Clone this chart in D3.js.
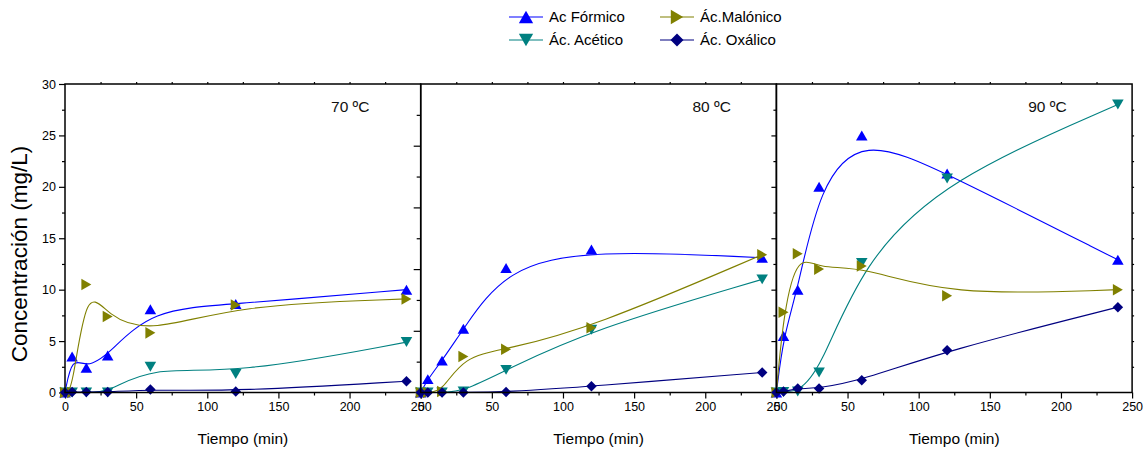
<!DOCTYPE html>
<html>
<head>
<meta charset="utf-8">
<script src="https://cdn.jsdelivr.net/npm/d3@7"></script>
<style>
  body { margin: 0; background: #fff; }
  svg { display: block; font-family: "Liberation Sans", Arial, sans-serif; }
</style>
</head>
<body>
<svg id="chart" width="1146" height="453"></svg>
<script>
// Sampling times (min), shared by every temperature
const tiempos = [0, 5, 15, 30, 60, 120, 240];
const temperaturas = ["70 ºC", "80 ºC", "90 ºC"];
const acidos = ["Ac Fórmico", "Ác. Acético", "Ác.Malónico", "Ác. Oxálico"];
const colores = ["#0000ff", "#008080", "#808000", "#000080"];
const simbolos = ["up", "down", "right", "diamond"];

// Concentrations (mg/L) at 70 ºC
const formico70  = [0, 3.5, 2.4, 3.6, 8.1, 8.6, 10.0];
const acetico70  = [0, 0, 0, 0, 2.5, 1.8, 4.9];
const malonico70 = [0, 0, 10.5, 7.4, 5.8, 8.5, 9.1];
const oxalico70  = [0, 0.05, 0.05, 0.05, 0.3, 0.1, 1.1];

// Concentrations (mg/L) at 80 ºC
const formico80  = [0, 1.3, 3.1, 6.2, 12.1, 13.9, 13.1];
const acetico80  = [0, 0, 0, 0.1, 2.2, 6.1, 11.0];
const malonico80 = [0, 0, 0.1, 3.5, 4.2, 6.3, 13.4];
const oxalico80  = [0, 0, 0, 0, 0.05, 0.6, 1.95];

// Concentrations (mg/L) at 90 ºC
const formico90  = [0, 5.5, 10.0, 20.0, 25.0, 21.3, 12.9];
const acetico90  = [0, 0.05, 0.1, 1.95, 12.6, 20.8, 28.0];
const malonico90 = [0, 7.8, 13.5, 12.0, 12.3, 9.4, 10.0];
const oxalico90  = [0, 0.1, 0.4, 0.4, 1.2, 4.1, 8.3];

const xTicks = [0, 50, 100, 150, 200, 250];
const yTicks = [0, 5, 10, 15, 20, 25, 30];

const series = [
  [formico70, acetico70, malonico70, oxalico70],
  [formico80, acetico80, malonico80, oxalico80],
  [formico90, acetico90, malonico90, oxalico90]
];

// ---- layout ----
const plotLeft = 65, panelW = 355.7, plotTop = 84, plotBottom = 392.5;
const labelT = [187, 191, 177];           // x (in minutes) where the temperature label starts

const svg = d3.select("#chart");
const y = d3.scaleLinear().domain([0, 30]).range([plotBottom, plotTop]);

function symbolPath(kind, s) {
  const w = s * 1.1, h = s * 0.95;
  switch (kind) {
    case "up":    return `M0,${-h/2}L${w/2},${h/2}L${-w/2},${h/2}Z`;
    case "down":  return `M0,${h/2}L${w/2},${-h/2}L${-w/2},${-h/2}Z`;
    case "right": return `M${-h/2},${-w/2}L${h/2},0L${-h/2},${w/2}Z`;
    default:      return `M0,${-s/2}L${s/2},0L0,${s/2}L${-s/2},0Z`;
  }
}

function styleAxis(g) {
  g.select(".domain").remove();
  g.selectAll(".tick line").attr("stroke", "#000").attr("stroke-width", 1.2);
  g.selectAll(".tick text").attr("fill", "#000").attr("font-size", 12.5)
    .attr("font-family", "'Liberation Sans', Arial, sans-serif");
}

temperaturas.forEach((temp, p) => {
  const x0 = plotLeft + p * panelW;
  const x = d3.scaleLinear().domain([0, 250]).range([x0, x0 + panelW]);
  const g = svg.append("g");

  // bottom axis: labelled majors, unlabelled minors
  g.append("g").attr("transform", `translate(0,${plotBottom})`)
    .call(d3.axisBottom(x).tickValues(xTicks).tickSize(6).tickPadding(4))
    .call(styleAxis);
  g.append("g").attr("transform", `translate(0,${plotBottom})`)
    .call(d3.axisBottom(x).tickValues([25, 75, 125, 175, 225]).tickSize(3).tickFormat(""))
    .call(styleAxis);
  // top axis: small outward ticks
  g.append("g").attr("transform", `translate(0,${plotTop})`)
    .call(d3.axisTop(x).tickValues([25, 50, 75, 100, 125, 150, 175, 200, 225]).tickSize(2).tickFormat(""))
    .call(styleAxis);

  // left axis of each panel
  if (p === 0) {
    g.append("g").attr("transform", `translate(${x0},0)`)
      .call(d3.axisLeft(y).tickValues(yTicks).tickSize(6).tickPadding(3))
      .call(styleAxis);
    g.append("g").attr("transform", `translate(${x0},0)`)
      .call(d3.axisLeft(y).tickValues(d3.range(2.5, 30, 5)).tickSize(3).tickFormat(""))
      .call(styleAxis);
  } else if (p === 1) {
    g.append("g").attr("transform", `translate(${x0},0)`)
      .call(d3.axisLeft(y).tickValues([6, 12, 18, 24]).tickSize(7).tickFormat(""))
      .call(styleAxis);
    g.append("g").attr("transform", `translate(${x0},0)`)
      .call(d3.axisLeft(y).tickValues([3, 9, 15, 21, 27]).tickSize(4).tickFormat(""))
      .call(styleAxis);
  } else {
    g.append("g").attr("transform", `translate(${x0},0)`)
      .call(d3.axisLeft(y).tickValues([5, 10, 15, 20, 25]).tickSize(5).tickFormat(""))
      .call(styleAxis);
    g.append("g").attr("transform", `translate(${x0},0)`)
      .call(d3.axisLeft(y).tickValues(d3.range(2.5, 30, 5)).tickSize(3).tickFormat(""))
      .call(styleAxis);
    g.append("g").attr("transform", `translate(${x0 + panelW},0)`)
      .call(d3.axisRight(y).tickValues(d3.range(2.5, 30, 2.5)).tickSize(2).tickFormat(""))
      .call(styleAxis);
  }

  // series: smooth B-spline line + markers
  const line = d3.line().x((d, i) => x(tiempos[i])).y(d => y(d)).curve(d3.curveBasis);
  series[p].forEach((vals, s) => {
    const sg = g.append("g");
    sg.append("path").attr("d", line(vals))
      .attr("fill", "none").attr("stroke", colores[s]).attr("stroke-width", 1.1);
    sg.selectAll("path.m").data(vals).enter().append("path").attr("class", "m")
      .attr("transform", (d, i) => `translate(${x(tiempos[i])},${y(d)})`)
      .attr("d", symbolPath(simbolos[s], 10.5))
      .attr("fill", colores[s]);
  });

  // frame
  g.append("rect").attr("x", x0).attr("y", plotTop)
    .attr("width", panelW).attr("height", plotBottom - plotTop)
    .attr("fill", "none").attr("stroke", "#000").attr("stroke-width", 1.5);

  // temperature label
  g.append("text").attr("x", x(labelT[p])).attr("y", 112)
    .attr("font-size", 15.5).attr("fill", "#111").text(temp);

  // x title
  g.append("text").attr("x", x0 + panelW / 2).attr("y", 444)
    .attr("text-anchor", "middle").attr("font-size", 15.5).attr("fill", "#000")
    .text("Tiempo (min)");
});

// y title
svg.append("text").attr("transform", "translate(27,254) rotate(-90)")
  .attr("text-anchor", "middle").attr("font-size", 22.5).attr("fill", "#000")
  .text("Concentración (mg/L)");

// legend (two columns, two rows)
const legendPos = [[509, 17], [509, 40], [660, 17], [660, 40]];
acidos.forEach((name, s) => {
  const [lx, ly] = legendPos[s];
  const lg = svg.append("g").attr("transform", `translate(${lx},${ly})`);
  lg.append("line").attr("x1", 0).attr("x2", 34).attr("y1", 0).attr("y2", 0)
    .attr("stroke", colores[s]).attr("stroke-width", 1.1);
  lg.append("path").attr("transform", "translate(17,0)")
    .attr("d", symbolPath(simbolos[s], 13)).attr("fill", colores[s]);
  lg.append("text").attr("x", 40).attr("y", 0).attr("dy", "0.35em")
    .attr("font-size", 15).attr("fill", "#000").text(name);
});
</script>
</body>
</html>
